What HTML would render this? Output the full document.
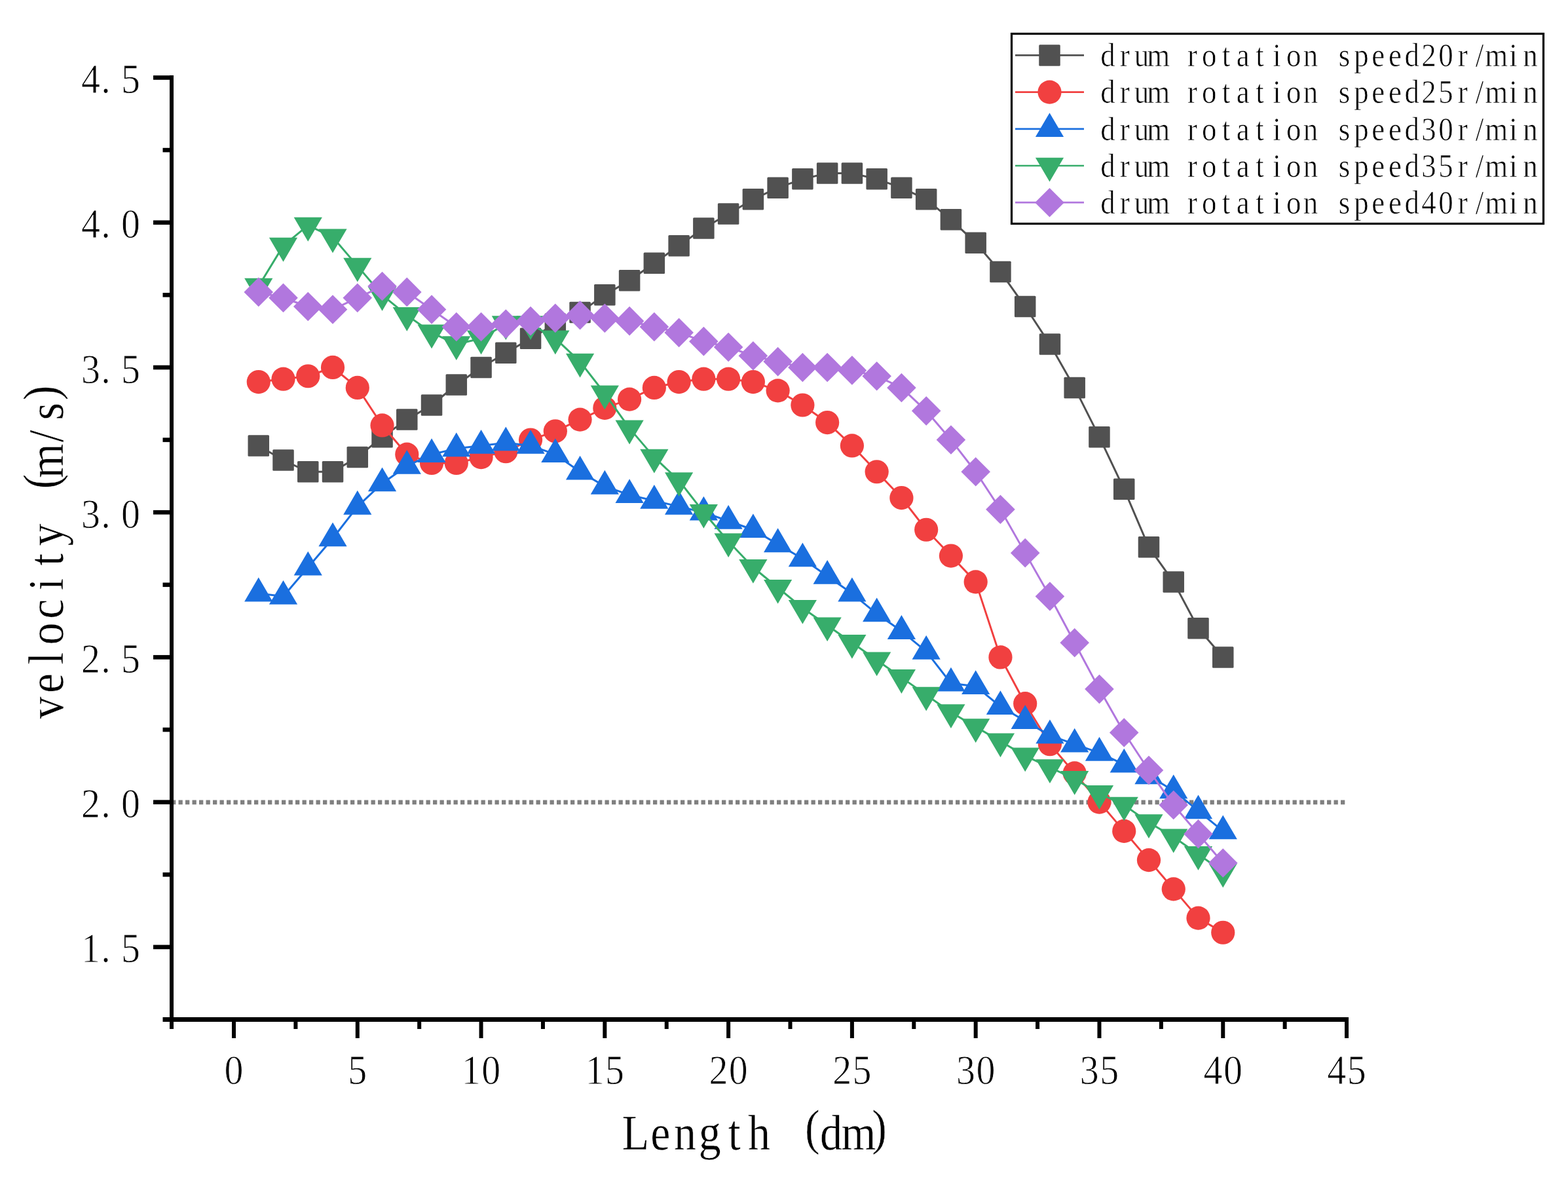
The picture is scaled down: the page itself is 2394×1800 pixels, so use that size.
<!DOCTYPE html>
<html><head><meta charset="utf-8"><title>drum rotation speed velocity chart</title>
<style>html,body{margin:0;padding:0;background:#fff;}svg{display:block;}text{font-family:"Liberation Serif","Noto Serif CJK SC",serif;fill:#000;}</style></head><body>
<svg width="2394" height="1800" viewBox="0 0 2394 1800">
<rect width="2394" height="1800" fill="#fff"/>
<line x1="262" y1="1224.85" x2="2056" y2="1224.85" stroke="#808080" stroke-width="6.6" stroke-dasharray="6.3 4.2"/>
<polyline fill="none" stroke="#515151" stroke-width="3.0" stroke-linejoin="round" points="394.76,680.42 432.51,702.55 470.27,720.25 508.02,720.25 545.78,698.12 583.54,667.15 621.29,640.6 659.05,618.48 696.8,587.51 734.56,560.96 772.32,538.84 810.07,516.71 847.83,494.59 885.58,476.89 923.34,450.34 961.1,428.22 998.85,401.67 1036.61,375.13 1074.36,348.58 1112.12,326.46 1149.88,304.33 1187.63,286.63 1225.39,273.36 1263.14,264.51 1300.9,264.51 1338.66,273.36 1376.41,286.63 1414.17,304.33 1451.92,335.31 1489.68,370.7 1527.44,414.95 1565.19,468.04 1602.95,525.56 1640.7,591.93 1678.46,667.15 1716.22,746.79 1753.97,835.29 1791.73,888.38 1829.48,959.17 1867.24,1003.42"/>
<g fill="#515151"><rect x="378.51" y="664.17" width="32.5" height="32.5" rx="1.5"/><rect x="416.26" y="686.3" width="32.5" height="32.5" rx="1.5"/><rect x="454.02" y="704" width="32.5" height="32.5" rx="1.5"/><rect x="491.77" y="704" width="32.5" height="32.5" rx="1.5"/><rect x="529.53" y="681.87" width="32.5" height="32.5" rx="1.5"/><rect x="567.29" y="650.9" width="32.5" height="32.5" rx="1.5"/><rect x="605.04" y="624.35" width="32.5" height="32.5" rx="1.5"/><rect x="642.8" y="602.23" width="32.5" height="32.5" rx="1.5"/><rect x="680.55" y="571.26" width="32.5" height="32.5" rx="1.5"/><rect x="718.31" y="544.71" width="32.5" height="32.5" rx="1.5"/><rect x="756.07" y="522.59" width="32.5" height="32.5" rx="1.5"/><rect x="793.82" y="500.46" width="32.5" height="32.5" rx="1.5"/><rect x="831.58" y="478.34" width="32.5" height="32.5" rx="1.5"/><rect x="869.33" y="460.64" width="32.5" height="32.5" rx="1.5"/><rect x="907.09" y="434.09" width="32.5" height="32.5" rx="1.5"/><rect x="944.85" y="411.97" width="32.5" height="32.5" rx="1.5"/><rect x="982.6" y="385.42" width="32.5" height="32.5" rx="1.5"/><rect x="1020.36" y="358.88" width="32.5" height="32.5" rx="1.5"/><rect x="1058.11" y="332.33" width="32.5" height="32.5" rx="1.5"/><rect x="1095.87" y="310.21" width="32.5" height="32.5" rx="1.5"/><rect x="1133.63" y="288.08" width="32.5" height="32.5" rx="1.5"/><rect x="1171.38" y="270.38" width="32.5" height="32.5" rx="1.5"/><rect x="1209.14" y="257.11" width="32.5" height="32.5" rx="1.5"/><rect x="1246.89" y="248.26" width="32.5" height="32.5" rx="1.5"/><rect x="1284.65" y="248.26" width="32.5" height="32.5" rx="1.5"/><rect x="1322.41" y="257.11" width="32.5" height="32.5" rx="1.5"/><rect x="1360.16" y="270.38" width="32.5" height="32.5" rx="1.5"/><rect x="1397.92" y="288.08" width="32.5" height="32.5" rx="1.5"/><rect x="1435.67" y="319.06" width="32.5" height="32.5" rx="1.5"/><rect x="1473.43" y="354.45" width="32.5" height="32.5" rx="1.5"/><rect x="1511.19" y="398.7" width="32.5" height="32.5" rx="1.5"/><rect x="1548.94" y="451.79" width="32.5" height="32.5" rx="1.5"/><rect x="1586.7" y="509.31" width="32.5" height="32.5" rx="1.5"/><rect x="1624.45" y="575.68" width="32.5" height="32.5" rx="1.5"/><rect x="1662.21" y="650.9" width="32.5" height="32.5" rx="1.5"/><rect x="1699.97" y="730.54" width="32.5" height="32.5" rx="1.5"/><rect x="1737.72" y="819.04" width="32.5" height="32.5" rx="1.5"/><rect x="1775.48" y="872.13" width="32.5" height="32.5" rx="1.5"/><rect x="1813.23" y="942.92" width="32.5" height="32.5" rx="1.5"/><rect x="1850.99" y="987.17" width="32.5" height="32.5" rx="1.5"/></g>
<polyline fill="none" stroke="#F14040" stroke-width="3.0" stroke-linejoin="round" points="394.76,583.08 432.51,578.66 470.27,574.23 508.02,560.96 545.78,591.93 583.54,649.45 621.29,693.7 659.05,706.97 696.8,706.97 734.56,698.12 772.32,689.27 810.07,671.57 847.83,658.3 885.58,640.6 923.34,622.9 961.1,609.63 998.85,591.93 1036.61,583.08 1074.36,578.66 1112.12,578.66 1149.88,583.08 1187.63,596.36 1225.39,618.48 1263.14,645.03 1300.9,680.42 1338.66,720.25 1376.41,760.07 1414.17,808.74 1451.92,848.56 1489.68,888.38 1527.44,1003.42 1565.19,1074.21 1602.95,1136.16 1640.7,1180.4 1678.46,1224.65 1716.22,1268.9 1753.97,1313.14 1791.73,1357.39 1829.48,1401.63 1867.24,1423.76"/>
<g fill="#F14040"><circle cx="394.76" cy="583.08" r="18.1"/><circle cx="432.51" cy="578.66" r="18.1"/><circle cx="470.27" cy="574.23" r="18.1"/><circle cx="508.02" cy="560.96" r="18.1"/><circle cx="545.78" cy="591.93" r="18.1"/><circle cx="583.54" cy="649.45" r="18.1"/><circle cx="621.29" cy="693.7" r="18.1"/><circle cx="659.05" cy="706.97" r="18.1"/><circle cx="696.8" cy="706.97" r="18.1"/><circle cx="734.56" cy="698.12" r="18.1"/><circle cx="772.32" cy="689.27" r="18.1"/><circle cx="810.07" cy="671.57" r="18.1"/><circle cx="847.83" cy="658.3" r="18.1"/><circle cx="885.58" cy="640.6" r="18.1"/><circle cx="923.34" cy="622.9" r="18.1"/><circle cx="961.1" cy="609.63" r="18.1"/><circle cx="998.85" cy="591.93" r="18.1"/><circle cx="1036.61" cy="583.08" r="18.1"/><circle cx="1074.36" cy="578.66" r="18.1"/><circle cx="1112.12" cy="578.66" r="18.1"/><circle cx="1149.88" cy="583.08" r="18.1"/><circle cx="1187.63" cy="596.36" r="18.1"/><circle cx="1225.39" cy="618.48" r="18.1"/><circle cx="1263.14" cy="645.03" r="18.1"/><circle cx="1300.9" cy="680.42" r="18.1"/><circle cx="1338.66" cy="720.25" r="18.1"/><circle cx="1376.41" cy="760.07" r="18.1"/><circle cx="1414.17" cy="808.74" r="18.1"/><circle cx="1451.92" cy="848.56" r="18.1"/><circle cx="1489.68" cy="888.38" r="18.1"/><circle cx="1527.44" cy="1003.42" r="18.1"/><circle cx="1565.19" cy="1074.21" r="18.1"/><circle cx="1602.95" cy="1136.16" r="18.1"/><circle cx="1640.7" cy="1180.4" r="18.1"/><circle cx="1678.46" cy="1224.65" r="18.1"/><circle cx="1716.22" cy="1268.9" r="18.1"/><circle cx="1753.97" cy="1313.14" r="18.1"/><circle cx="1791.73" cy="1357.39" r="18.1"/><circle cx="1829.48" cy="1401.63" r="18.1"/><circle cx="1867.24" cy="1423.76" r="18.1"/></g>
<polyline fill="none" stroke="#1A6FDF" stroke-width="3.0" stroke-linejoin="round" points="394.76,906.08 432.51,910.5 470.27,866.26 508.02,822.01 545.78,773.34 583.54,737.94 621.29,711.4 659.05,693.7 696.8,684.85 734.56,680.42 772.32,676 810.07,680.42 847.83,693.7 885.58,720.25 923.34,742.37 961.1,755.64 998.85,764.49 1036.61,773.34 1074.36,782.19 1112.12,795.46 1149.88,808.74 1187.63,830.86 1225.39,852.98 1263.14,879.53 1300.9,906.08 1338.66,937.05 1376.41,963.6 1414.17,994.57 1451.92,1043.24 1489.68,1047.67 1527.44,1078.64 1565.19,1100.76 1602.95,1122.88 1640.7,1136.16 1678.46,1149.43 1716.22,1167.13 1753.97,1184.83 1791.73,1206.95 1829.48,1237.92 1867.24,1268.9"/>
<g fill="#1A6FDF"><path d="M394.76 881.58L416.36 918.38L373.16 918.38Z"/><path d="M432.51 886L454.11 922.8L410.91 922.8Z"/><path d="M470.27 841.76L491.87 878.56L448.67 878.56Z"/><path d="M508.02 797.51L529.62 834.31L486.42 834.31Z"/><path d="M545.78 748.84L567.38 785.64L524.18 785.64Z"/><path d="M583.54 713.44L605.14 750.24L561.94 750.24Z"/><path d="M621.29 686.9L642.89 723.7L599.69 723.7Z"/><path d="M659.05 669.2L680.65 706L637.45 706Z"/><path d="M696.8 660.35L718.4 697.15L675.2 697.15Z"/><path d="M734.56 655.92L756.16 692.72L712.96 692.72Z"/><path d="M772.32 651.5L793.92 688.3L750.72 688.3Z"/><path d="M810.07 655.92L831.67 692.72L788.47 692.72Z"/><path d="M847.83 669.2L869.43 706L826.23 706Z"/><path d="M885.58 695.75L907.18 732.55L863.98 732.55Z"/><path d="M923.34 717.87L944.94 754.67L901.74 754.67Z"/><path d="M961.1 731.14L982.7 767.94L939.5 767.94Z"/><path d="M998.85 739.99L1020.45 776.79L977.25 776.79Z"/><path d="M1036.61 748.84L1058.21 785.64L1015.01 785.64Z"/><path d="M1074.36 757.69L1095.96 794.49L1052.76 794.49Z"/><path d="M1112.12 770.96L1133.72 807.76L1090.52 807.76Z"/><path d="M1149.88 784.24L1171.48 821.04L1128.28 821.04Z"/><path d="M1187.63 806.36L1209.23 843.16L1166.03 843.16Z"/><path d="M1225.39 828.48L1246.99 865.28L1203.79 865.28Z"/><path d="M1263.14 855.03L1284.74 891.83L1241.54 891.83Z"/><path d="M1300.9 881.58L1322.5 918.38L1279.3 918.38Z"/><path d="M1338.66 912.55L1360.26 949.35L1317.06 949.35Z"/><path d="M1376.41 939.1L1398.01 975.9L1354.81 975.9Z"/><path d="M1414.17 970.07L1435.77 1006.87L1392.57 1006.87Z"/><path d="M1451.92 1018.74L1473.52 1055.54L1430.32 1055.54Z"/><path d="M1489.68 1023.17L1511.28 1059.97L1468.08 1059.97Z"/><path d="M1527.44 1054.14L1549.04 1090.94L1505.84 1090.94Z"/><path d="M1565.19 1076.26L1586.79 1113.06L1543.59 1113.06Z"/><path d="M1602.95 1098.38L1624.55 1135.18L1581.35 1135.18Z"/><path d="M1640.7 1111.66L1662.3 1148.46L1619.1 1148.46Z"/><path d="M1678.46 1124.93L1700.06 1161.73L1656.86 1161.73Z"/><path d="M1716.22 1142.63L1737.82 1179.43L1694.62 1179.43Z"/><path d="M1753.97 1160.33L1775.57 1197.13L1732.37 1197.13Z"/><path d="M1791.73 1182.45L1813.33 1219.25L1770.13 1219.25Z"/><path d="M1829.48 1213.42L1851.08 1250.22L1807.88 1250.22Z"/><path d="M1867.24 1244.4L1888.84 1281.2L1845.64 1281.2Z"/></g>
<polyline fill="none" stroke="#37AD6B" stroke-width="3.0" stroke-linejoin="round" points="394.76,437.07 432.51,375.13 470.27,344.15 508.02,361.85 545.78,406.1 583.54,450.34 621.29,481.32 659.05,507.86 696.8,525.56 734.56,516.71 772.32,494.59 810.07,494.59 847.83,516.71 885.58,552.11 923.34,600.78 961.1,653.88 998.85,698.12 1036.61,733.52 1074.36,782.19 1112.12,826.44 1149.88,866.26 1187.63,897.23 1225.39,928.2 1263.14,954.75 1300.9,981.3 1338.66,1007.84 1376.41,1034.39 1414.17,1060.94 1451.92,1087.49 1489.68,1109.61 1527.44,1131.73 1565.19,1153.86 1602.95,1171.55 1640.7,1189.25 1678.46,1211.38 1716.22,1229.07 1753.97,1255.62 1791.73,1277.75 1829.48,1304.29 1867.24,1330.84"/>
<g fill="#37AD6B"><path d="M394.76 461.57L416.36 424.77L373.16 424.77Z"/><path d="M432.51 399.63L454.11 362.83L410.91 362.83Z"/><path d="M470.27 368.65L491.87 331.85L448.67 331.85Z"/><path d="M508.02 386.35L529.62 349.55L486.42 349.55Z"/><path d="M545.78 430.6L567.38 393.8L524.18 393.8Z"/><path d="M583.54 474.84L605.14 438.04L561.94 438.04Z"/><path d="M621.29 505.82L642.89 469.02L599.69 469.02Z"/><path d="M659.05 532.36L680.65 495.56L637.45 495.56Z"/><path d="M696.8 550.06L718.4 513.26L675.2 513.26Z"/><path d="M734.56 541.21L756.16 504.41L712.96 504.41Z"/><path d="M772.32 519.09L793.92 482.29L750.72 482.29Z"/><path d="M810.07 519.09L831.67 482.29L788.47 482.29Z"/><path d="M847.83 541.21L869.43 504.41L826.23 504.41Z"/><path d="M885.58 576.61L907.18 539.81L863.98 539.81Z"/><path d="M923.34 625.28L944.94 588.48L901.74 588.48Z"/><path d="M961.1 678.38L982.7 641.58L939.5 641.58Z"/><path d="M998.85 722.62L1020.45 685.82L977.25 685.82Z"/><path d="M1036.61 758.02L1058.21 721.22L1015.01 721.22Z"/><path d="M1074.36 806.69L1095.96 769.89L1052.76 769.89Z"/><path d="M1112.12 850.94L1133.72 814.14L1090.52 814.14Z"/><path d="M1149.88 890.76L1171.48 853.96L1128.28 853.96Z"/><path d="M1187.63 921.73L1209.23 884.93L1166.03 884.93Z"/><path d="M1225.39 952.7L1246.99 915.9L1203.79 915.9Z"/><path d="M1263.14 979.25L1284.74 942.45L1241.54 942.45Z"/><path d="M1300.9 1005.8L1322.5 969L1279.3 969Z"/><path d="M1338.66 1032.34L1360.26 995.54L1317.06 995.54Z"/><path d="M1376.41 1058.89L1398.01 1022.09L1354.81 1022.09Z"/><path d="M1414.17 1085.44L1435.77 1048.64L1392.57 1048.64Z"/><path d="M1451.92 1111.99L1473.52 1075.19L1430.32 1075.19Z"/><path d="M1489.68 1134.11L1511.28 1097.31L1468.08 1097.31Z"/><path d="M1527.44 1156.23L1549.04 1119.43L1505.84 1119.43Z"/><path d="M1565.19 1178.36L1586.79 1141.56L1543.59 1141.56Z"/><path d="M1602.95 1196.05L1624.55 1159.25L1581.35 1159.25Z"/><path d="M1640.7 1213.75L1662.3 1176.95L1619.1 1176.95Z"/><path d="M1678.46 1235.88L1700.06 1199.08L1656.86 1199.08Z"/><path d="M1716.22 1253.57L1737.82 1216.77L1694.62 1216.77Z"/><path d="M1753.97 1280.12L1775.57 1243.32L1732.37 1243.32Z"/><path d="M1791.73 1302.25L1813.33 1265.45L1770.13 1265.45Z"/><path d="M1829.48 1328.79L1851.08 1291.99L1807.88 1291.99Z"/><path d="M1867.24 1355.34L1888.84 1318.54L1845.64 1318.54Z"/></g>
<polyline fill="none" stroke="#B177DE" stroke-width="3.0" stroke-linejoin="round" points="394.76,445.92 432.51,454.77 470.27,468.04 508.02,472.47 545.78,454.77 583.54,437.07 621.29,445.92 659.05,472.47 696.8,499.02 734.56,499.02 772.32,494.59 810.07,490.17 847.83,485.74 885.58,481.32 923.34,485.74 961.1,490.17 998.85,499.02 1036.61,507.86 1074.36,521.14 1112.12,529.99 1149.88,543.26 1187.63,552.11 1225.39,560.96 1263.14,560.96 1300.9,565.38 1338.66,574.23 1376.41,591.93 1414.17,627.33 1451.92,671.57 1489.68,720.25 1527.44,777.77 1565.19,844.13 1602.95,910.5 1640.7,981.3 1678.46,1052.09 1716.22,1118.46 1753.97,1175.98 1791.73,1229.07 1829.48,1273.32 1867.24,1317.57"/>
<g fill="#B177DE"><path d="M394.76 423.62L417.06 445.92L394.76 468.22L372.46 445.92Z"/><path d="M432.51 432.47L454.81 454.77L432.51 477.07L410.21 454.77Z"/><path d="M470.27 445.74L492.57 468.04L470.27 490.34L447.97 468.04Z"/><path d="M508.02 450.17L530.32 472.47L508.02 494.77L485.72 472.47Z"/><path d="M545.78 432.47L568.08 454.77L545.78 477.07L523.48 454.77Z"/><path d="M583.54 414.77L605.84 437.07L583.54 459.37L561.24 437.07Z"/><path d="M621.29 423.62L643.59 445.92L621.29 468.22L598.99 445.92Z"/><path d="M659.05 450.17L681.35 472.47L659.05 494.77L636.75 472.47Z"/><path d="M696.8 476.72L719.1 499.02L696.8 521.32L674.5 499.02Z"/><path d="M734.56 476.72L756.86 499.02L734.56 521.32L712.26 499.02Z"/><path d="M772.32 472.29L794.62 494.59L772.32 516.89L750.02 494.59Z"/><path d="M810.07 467.87L832.37 490.17L810.07 512.47L787.77 490.17Z"/><path d="M847.83 463.44L870.13 485.74L847.83 508.04L825.53 485.74Z"/><path d="M885.58 459.02L907.88 481.32L885.58 503.62L863.28 481.32Z"/><path d="M923.34 463.44L945.64 485.74L923.34 508.04L901.04 485.74Z"/><path d="M961.1 467.87L983.4 490.17L961.1 512.47L938.8 490.17Z"/><path d="M998.85 476.72L1021.15 499.02L998.85 521.32L976.55 499.02Z"/><path d="M1036.61 485.56L1058.91 507.86L1036.61 530.16L1014.31 507.86Z"/><path d="M1074.36 498.84L1096.66 521.14L1074.36 543.44L1052.06 521.14Z"/><path d="M1112.12 507.69L1134.42 529.99L1112.12 552.29L1089.82 529.99Z"/><path d="M1149.88 520.96L1172.18 543.26L1149.88 565.56L1127.58 543.26Z"/><path d="M1187.63 529.81L1209.93 552.11L1187.63 574.41L1165.33 552.11Z"/><path d="M1225.39 538.66L1247.69 560.96L1225.39 583.26L1203.09 560.96Z"/><path d="M1263.14 538.66L1285.44 560.96L1263.14 583.26L1240.84 560.96Z"/><path d="M1300.9 543.08L1323.2 565.38L1300.9 587.68L1278.6 565.38Z"/><path d="M1338.66 551.93L1360.96 574.23L1338.66 596.53L1316.36 574.23Z"/><path d="M1376.41 569.63L1398.71 591.93L1376.41 614.23L1354.11 591.93Z"/><path d="M1414.17 605.03L1436.47 627.33L1414.17 649.63L1391.87 627.33Z"/><path d="M1451.92 649.27L1474.22 671.57L1451.92 693.87L1429.62 671.57Z"/><path d="M1489.68 697.95L1511.98 720.25L1489.68 742.55L1467.38 720.25Z"/><path d="M1527.44 755.47L1549.74 777.77L1527.44 800.07L1505.14 777.77Z"/><path d="M1565.19 821.83L1587.49 844.13L1565.19 866.43L1542.89 844.13Z"/><path d="M1602.95 888.2L1625.25 910.5L1602.95 932.8L1580.65 910.5Z"/><path d="M1640.7 959L1663 981.3L1640.7 1003.6L1618.4 981.3Z"/><path d="M1678.46 1029.79L1700.76 1052.09L1678.46 1074.39L1656.16 1052.09Z"/><path d="M1716.22 1096.16L1738.52 1118.46L1716.22 1140.76L1693.92 1118.46Z"/><path d="M1753.97 1153.68L1776.27 1175.98L1753.97 1198.28L1731.67 1175.98Z"/><path d="M1791.73 1206.77L1814.03 1229.07L1791.73 1251.37L1769.43 1229.07Z"/><path d="M1829.48 1251.02L1851.78 1273.32L1829.48 1295.62L1807.18 1273.32Z"/><path d="M1867.24 1295.27L1889.54 1317.57L1867.24 1339.87L1844.94 1317.57Z"/></g>
<g fill="#000"><rect x="259" y="115" width="6" height="1456"/><rect x="248.5" y="1553" width="1810.5" height="7"/><rect x="234" y="115.2" width="31" height="6.6"/><rect x="234" y="336.43" width="31" height="6.6"/><rect x="234" y="557.66" width="31" height="6.6"/><rect x="234" y="778.89" width="31" height="6.6"/><rect x="234" y="1000.12" width="31" height="6.6"/><rect x="234" y="1221.35" width="31" height="6.6"/><rect x="234" y="1442.58" width="31" height="6.6"/><rect x="248.5" y="225.81" width="16.5" height="6.6"/><rect x="248.5" y="447.04" width="16.5" height="6.6"/><rect x="248.5" y="668.27" width="16.5" height="6.6"/><rect x="248.5" y="889.5" width="16.5" height="6.6"/><rect x="248.5" y="1110.73" width="16.5" height="6.6"/><rect x="248.5" y="1331.96" width="16.5" height="6.6"/><rect x="354" y="1553" width="6" height="32"/><rect x="542.78" y="1553" width="6" height="32"/><rect x="731.56" y="1553" width="6" height="32"/><rect x="920.34" y="1553" width="6" height="32"/><rect x="1109.12" y="1553" width="6" height="32"/><rect x="1297.9" y="1553" width="6" height="32"/><rect x="1486.68" y="1553" width="6" height="32"/><rect x="1675.46" y="1553" width="6" height="32"/><rect x="1864.24" y="1553" width="6" height="32"/><rect x="2053.02" y="1553" width="6" height="32"/><rect x="448.39" y="1553" width="6" height="18"/><rect x="637.17" y="1553" width="6" height="18"/><rect x="825.95" y="1553" width="6" height="18"/><rect x="1014.73" y="1553" width="6" height="18"/><rect x="1203.51" y="1553" width="6" height="18"/><rect x="1392.29" y="1553" width="6" height="18"/><rect x="1581.07" y="1553" width="6" height="18"/><rect x="1769.85" y="1553" width="6" height="18"/><rect x="1958.63" y="1553" width="6" height="18"/></g>
<g><text font-size="63.0" text-anchor="middle" transform="scale(0.92,1)" x="150.54 175.54 216.96" y="142.1" stroke="#fff" stroke-width="0.9">4.5</text><text font-size="63.0" text-anchor="middle" transform="scale(0.92,1)" x="150.54 175.54 216.96" y="363.33" stroke="#fff" stroke-width="0.9">4.0</text><text font-size="63.0" text-anchor="middle" transform="scale(0.92,1)" x="150.54 175.54 216.96" y="584.56" stroke="#fff" stroke-width="0.9">3.5</text><text font-size="63.0" text-anchor="middle" transform="scale(0.92,1)" x="150.54 175.54 216.96" y="805.79" stroke="#fff" stroke-width="0.9">3.0</text><text font-size="63.0" text-anchor="middle" transform="scale(0.92,1)" x="150.54 175.54 216.96" y="1027.02" stroke="#fff" stroke-width="0.9">2.5</text><text font-size="63.0" text-anchor="middle" transform="scale(0.92,1)" x="150.54 175.54 216.96" y="1248.25" stroke="#fff" stroke-width="0.9">2.0</text><text font-size="63.0" text-anchor="middle" transform="scale(0.92,1)" x="150.54 175.54 216.96" y="1469.48" stroke="#fff" stroke-width="0.9">1.5</text><text font-size="63.0" text-anchor="middle" transform="scale(0.92,1)" x="388.04" y="1655" stroke="#fff" stroke-width="0.9">0</text><text font-size="63.0" text-anchor="middle" transform="scale(0.92,1)" x="593.24" y="1655" stroke="#fff" stroke-width="0.9">5</text><text font-size="63.0" text-anchor="middle" transform="scale(0.92,1)" x="781.91 814.96" y="1655" stroke="#fff" stroke-width="0.9">10</text><text font-size="63.0" text-anchor="middle" transform="scale(0.92,1)" x="987.11 1020.15" y="1655" stroke="#fff" stroke-width="0.9">15</text><text font-size="63.0" text-anchor="middle" transform="scale(0.92,1)" x="1192.3 1225.35" y="1655" stroke="#fff" stroke-width="0.9">20</text><text font-size="63.0" text-anchor="middle" transform="scale(0.92,1)" x="1397.5 1430.54" y="1655" stroke="#fff" stroke-width="0.9">25</text><text font-size="63.0" text-anchor="middle" transform="scale(0.92,1)" x="1602.7 1635.74" y="1655" stroke="#fff" stroke-width="0.9">30</text><text font-size="63.0" text-anchor="middle" transform="scale(0.92,1)" x="1807.89 1840.93" y="1655" stroke="#fff" stroke-width="0.9">35</text><text font-size="63.0" text-anchor="middle" transform="scale(0.92,1)" x="2013.09 2046.13" y="1655" stroke="#fff" stroke-width="0.9">40</text><text font-size="63.0" text-anchor="middle" transform="scale(0.92,1)" x="2218.28 2251.33" y="1655" stroke="#fff" stroke-width="0.9">45</text></g>
<text font-size="75.4" text-anchor="middle" transform="scale(0.9,1)" x="1078.33 1120.22 1162.11 1204 1245.89 1287.78 1329.67 1378.22 1410.11 1456.44 1491.67" y="1755" dy="0 0 0 0 0 0 0 -8 8 0 -8" stroke="#fff" stroke-width="0.5">Length (dm)</text>
<text font-size="75.4" text-anchor="middle" transform="rotate(-90) scale(0.9,1)" x="-1200.61 -1158.72 -1116.83 -1074.94 -1033.06 -991.17 -949.28 -907.39 -865.5 -816.94 -781.72 -739.83 -697.94 -666.61" y="96" dy="0 0 0 0 0 0 0 0 0 -8 8 0 0 -8" stroke="#fff" stroke-width="0.5">velocity (m/s)</text>
<rect x="1544.5" y="51.5" width="812" height="290" fill="none" stroke="#000" stroke-width="3.2"/>
<line x1="1550" y1="84.4" x2="1655" y2="84.4" stroke="#515151" stroke-width="2.7"/><g fill="#515151"><rect x="1586.25" y="68.15" width="32.5" height="32.5" rx="1.5"/></g><text font-size="51.6" text-anchor="middle" transform="scale(0.87,1)" x="1944.14 1973.79 2003.45 2033.1 2062.76 2092.41 2122.07 2151.72 2181.38 2211.03 2240.69 2270.34 2300 2329.66 2359.31 2388.97 2418.62 2448.28 2477.93 2507.59 2537.24 2566.9 2596.55 2626.21 2655.86 2685.52" y="101.2" stroke="#fff" stroke-width="0.7">drum rotation speed20r/min</text>
<line x1="1550" y1="140.6" x2="1655" y2="140.6" stroke="#F14040" stroke-width="2.7"/><g fill="#F14040"><circle cx="1602.5" cy="140.6" r="18.1"/></g><text font-size="51.6" text-anchor="middle" transform="scale(0.87,1)" x="1944.14 1973.79 2003.45 2033.1 2062.76 2092.41 2122.07 2151.72 2181.38 2211.03 2240.69 2270.34 2300 2329.66 2359.31 2388.97 2418.62 2448.28 2477.93 2507.59 2537.24 2566.9 2596.55 2626.21 2655.86 2685.52" y="157.4" stroke="#fff" stroke-width="0.7">drum rotation speed25r/min</text>
<line x1="1550" y1="196.8" x2="1655" y2="196.8" stroke="#1A6FDF" stroke-width="2.7"/><g fill="#1A6FDF"><path d="M1602.5 172.3L1624.1 209.1L1580.9 209.1Z"/></g><text font-size="51.6" text-anchor="middle" transform="scale(0.87,1)" x="1944.14 1973.79 2003.45 2033.1 2062.76 2092.41 2122.07 2151.72 2181.38 2211.03 2240.69 2270.34 2300 2329.66 2359.31 2388.97 2418.62 2448.28 2477.93 2507.59 2537.24 2566.9 2596.55 2626.21 2655.86 2685.52" y="213.6" stroke="#fff" stroke-width="0.7">drum rotation speed30r/min</text>
<line x1="1550" y1="253" x2="1655" y2="253" stroke="#37AD6B" stroke-width="2.7"/><g fill="#37AD6B"><path d="M1602.5 277.5L1624.1 240.7L1580.9 240.7Z"/></g><text font-size="51.6" text-anchor="middle" transform="scale(0.87,1)" x="1944.14 1973.79 2003.45 2033.1 2062.76 2092.41 2122.07 2151.72 2181.38 2211.03 2240.69 2270.34 2300 2329.66 2359.31 2388.97 2418.62 2448.28 2477.93 2507.59 2537.24 2566.9 2596.55 2626.21 2655.86 2685.52" y="269.8" stroke="#fff" stroke-width="0.7">drum rotation speed35r/min</text>
<line x1="1550" y1="309.2" x2="1655" y2="309.2" stroke="#B177DE" stroke-width="2.7"/><g fill="#B177DE"><path d="M1602.5 286.9L1624.8 309.2L1602.5 331.5L1580.2 309.2Z"/></g><text font-size="51.6" text-anchor="middle" transform="scale(0.87,1)" x="1944.14 1973.79 2003.45 2033.1 2062.76 2092.41 2122.07 2151.72 2181.38 2211.03 2240.69 2270.34 2300 2329.66 2359.31 2388.97 2418.62 2448.28 2477.93 2507.59 2537.24 2566.9 2596.55 2626.21 2655.86 2685.52" y="326" stroke="#fff" stroke-width="0.7">drum rotation speed40r/min</text>
</svg>
</body></html>
